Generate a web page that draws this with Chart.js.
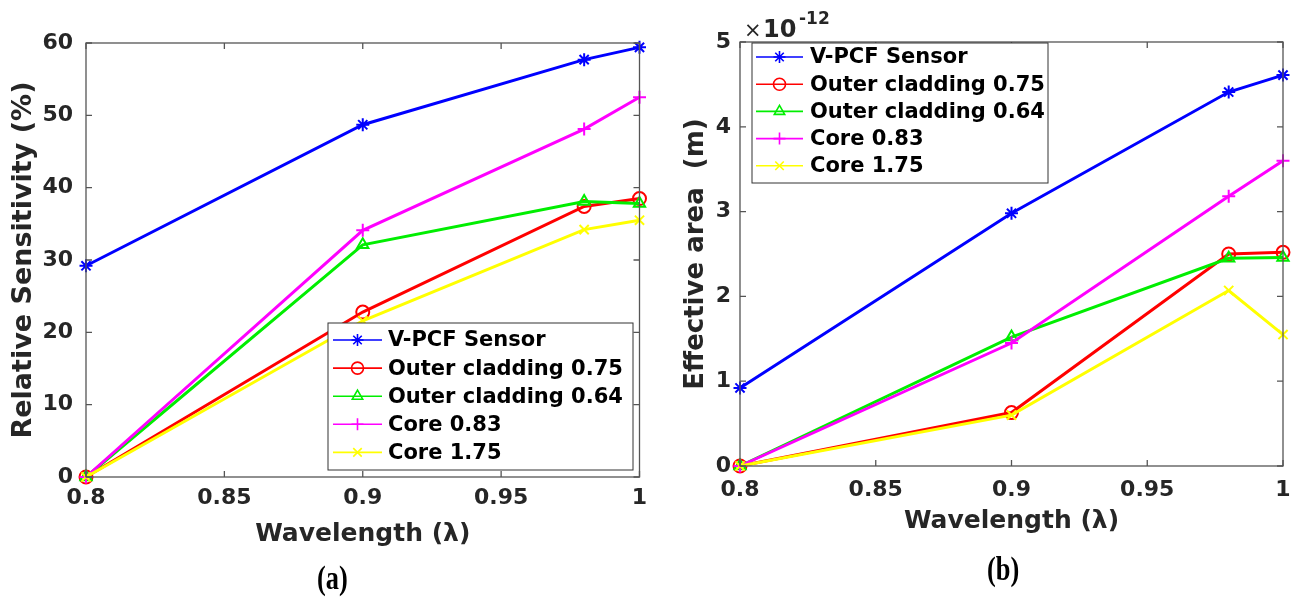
<!DOCTYPE html>
<html>
<head>
<meta charset="utf-8">
<script src="https://cdn.jsdelivr.net/npm/chart.js@4.4.1/dist/chart.umd.min.js"></script>
<style>
body { margin: 0; background: #fff; width: 1296px; height: 597px; overflow: hidden; position: relative; }
.box { position: absolute; top: 0; width: 648px; height: 597px; }
.cap { position: absolute; font: bold 33px "Liberation Serif"; color: #000; transform: scaleX(0.8); transform-origin: left top; line-height: 1; }
</style>
</head>
<body>
<div class="box" style="left:0"><canvas id="chartA"></canvas></div>
<div class="box" style="left:648px"><canvas id="chartB"></canvas></div>
<div class="cap" style="left:317px;top:562px">(a)</div>
<div class="cap" style="left:987px;top:553px">(b)</div>
<script>
// wavelengths (x) shared by both panels
const wavelength = [0.8, 0.9, 0.98, 1.0];
const seriesNames = ['V-PCF Sensor', 'Outer cladding 0.75', 'Outer cladding 0.64', 'Core 0.83', 'Core 1.75'];
const seriesColors = ['#0000ff', '#ff0000', '#00ee00', '#ff00ff', '#ffff00'];
const seriesMarkers = ['star', 'circle', 'triangle', 'cross', 'crossRot'];

// (a) relative sensitivity, %
const sensVPCF = [29.2, 48.7, 57.7, 59.4];
const sensOuter075 = [0, 22.8, 37.4, 38.5];
const sensOuter064 = [0, 32.1, 38.1, 37.8];
const sensCore083 = [0, 34.1, 48.1, 52.5];
const sensCore175 = [0, 21.6, 34.2, 35.5];

// (b) effective area, x1e-12 m
const areaVPCF = [0.92, 2.98, 4.41, 4.61];
const areaOuter075 = [0, 0.63, 2.50, 2.52];
const areaOuter064 = [0, 1.52, 2.45, 2.46];
const areaCore083 = [0, 1.45, 3.18, 3.60];
const areaCore175 = [0, 0.60, 2.07, 1.55];

const xTicks = [0.8, 0.85, 0.9, 0.95, 1];

const txt = '#262626';
const font = (size, weight) => ({ family: 'DejaVu Sans', size: size, weight: weight || 'bold' });

function makeSets(values) {
  return values.map((v, i) => ({
    label: seriesNames[i],
    data: wavelength.map((w, j) => ({ x: w, y: v[j] })),
    borderColor: seriesColors[i],
    borderWidth: 3,
    pointStyle: seriesMarkers[i],
    pointRadius: 6.5,
    pointBorderWidth: 2,
    pointBorderColor: seriesColors[i],
    pointBackgroundColor: 'rgba(0,0,0,0)',
    tension: 0,
    clip: false,
    order: values.length - i
  }));
}

// box, inward ticks and the legend, MATLAB style
const frame = {
  id: 'frame',
  afterDraw(chart, args, o) {
    const { ctx, chartArea: a, scales: { x, y } } = chart;
    ctx.save();
    ctx.strokeStyle = '#555';
    ctx.lineWidth = 1.3;
    ctx.beginPath();
    xTicks.forEach(t => {
      const px = x.getPixelForValue(t);
      ctx.moveTo(px, a.bottom); ctx.lineTo(px, a.bottom - 6);
      ctx.moveTo(px, a.top); ctx.lineTo(px, a.top + 6);
    });
    y.ticks.forEach(t => {
      const py = y.getPixelForValue(t.value);
      ctx.moveTo(a.left, py); ctx.lineTo(a.left + 6, py);
      ctx.moveTo(a.right, py); ctx.lineTo(a.right - 6, py);
    });
    ctx.stroke();
    ctx.strokeRect(a.left, a.top, a.right - a.left, a.bottom - a.top);

    // legend
    const L = o.legend;
    ctx.fillStyle = '#fff';
    ctx.fillRect(L.left, L.top, L.width, L.height);
    ctx.strokeStyle = '#333';
    ctx.lineWidth = 1;
    ctx.strokeRect(L.left, L.top, L.width, L.height);
    chart.data.datasets.forEach((ds, i) => {
      const cy = L.firstRow + i * L.rowH;
      ctx.strokeStyle = ds.borderColor;
      ctx.lineWidth = 1.6;
      ctx.beginPath();
      ctx.moveTo(L.left + L.lineFrom, cy); ctx.lineTo(L.left + L.lineTo, cy);
      ctx.stroke();
      ctx.fillStyle = 'rgba(0,0,0,0)';
      Chart.helpers.drawPoint(ctx, { pointStyle: ds.pointStyle, radius: 6, borderWidth: 1.4, rotation: 0 },
        L.left + (L.lineFrom + L.lineTo) / 2, cy);
      ctx.fillStyle = '#000';
      ctx.font = 'bold 21px "DejaVu Sans"';
      ctx.textBaseline = 'middle';
      ctx.textAlign = 'left';
      ctx.fillText(ds.label, L.left + L.textX, cy + 1);
    });

    if (o.exponent) {
      ctx.fillStyle = txt;
      ctx.textBaseline = 'alphabetic';
      ctx.font = '21px "DejaVu Sans"';
      ctx.fillText('\u00d7', a.left + 4, a.top - 5);
      ctx.font = 'bold 24px "DejaVu Sans"';
      ctx.fillText('10', a.left + 23, a.top - 5);
      ctx.font = 'bold 17px "DejaVu Sans"';
      ctx.fillText('-12', a.left + 59, a.top - 18);
    }
    ctx.restore();
  }
};

function makeOptions(cfg) {
  return {
    responsive: true,
    maintainAspectRatio: false,
    animation: false,
    layout: { padding: cfg.padding },
    plugins: {
      legend: { display: false },
      tooltip: { enabled: false },
      frame: { legend: cfg.legend, exponent: cfg.exponent }
    },
    scales: {
      x: {
        type: 'linear',
        min: 0.8,
        max: 1,
        afterBuildTicks(s) { s.ticks = xTicks.map(v => ({ value: v })); },
        ticks: {
          padding: cfg.xPad,
          color: txt,
          font: font(22),
          maxRotation: 0,
          callback: v => String(parseFloat(v.toFixed(2)))
        },
        grid: { display: false, drawTicks: false },
        border: { display: false },
        title: { display: true, text: 'Wavelength (\u03bb)', color: txt, font: font(25), padding: { top: 0, bottom: cfg.xTitlePad } },
        afterFit(s) { s.height = cfg.xHeight; s.paddingLeft = 0; s.paddingRight = 0; }
      },
      y: {
        min: 0,
        max: cfg.yMax,
        ticks: { stepSize: cfg.yStep, padding: cfg.yPad, color: txt, font: font(22) },
        grid: { display: false, drawTicks: false },
        border: { display: false },
        title: { display: true, text: cfg.yTitle, color: txt, font: font(cfg.yTitleSize), padding: { top: cfg.yTitlePad, bottom: 0 } },
        afterFit(s) { s.width = cfg.yWidth; s.paddingTop = 0; s.paddingBottom = 0; }
      }
    }
  };
}

new Chart(document.getElementById('chartA'), {
  type: 'line',
  data: { datasets: makeSets([sensVPCF, sensOuter075, sensOuter064, sensCore083, sensCore175]) },
  options: makeOptions({
    padding: { left: 0, right: 8, top: 43, bottom: 48 },
    xHeight: 72, xPad: 8, xTitlePad: 0, yWidth: 86, yPad: 13, yMax: 60, yStep: 10,
    yTitle: 'Relative Sensitivity (%)', yTitleSize: 27, yTitlePad: 8,
    legend: { left: 328, top: 323, width: 305, height: 147, firstRow: 340, rowH: 28.1, lineFrom: 5, lineTo: 54, textX: 60 }
  }),
  plugins: [frame]
});

new Chart(document.getElementById('chartB'), {
  type: 'line',
  data: { datasets: makeSets([areaVPCF, areaOuter075, areaOuter064, areaCore083, areaCore175]) },
  options: makeOptions({
    padding: { left: 0, right: 13, top: 42, bottom: 61 },
    xHeight: 70, xPad: 11, xTitlePad: 0, yWidth: 92, yPad: 9, yMax: 5, yStep: 1,
    yTitle: 'Effective area  (m)', yTitleSize: 26, yTitlePad: 33,
    legend: { left: 104, top: 43, width: 296, height: 140, firstRow: 57, rowH: 27.2, lineFrom: 4, lineTo: 51, textX: 58 },
    exponent: true
  }),
  plugins: [frame]
});
</script>
</body>
</html>
